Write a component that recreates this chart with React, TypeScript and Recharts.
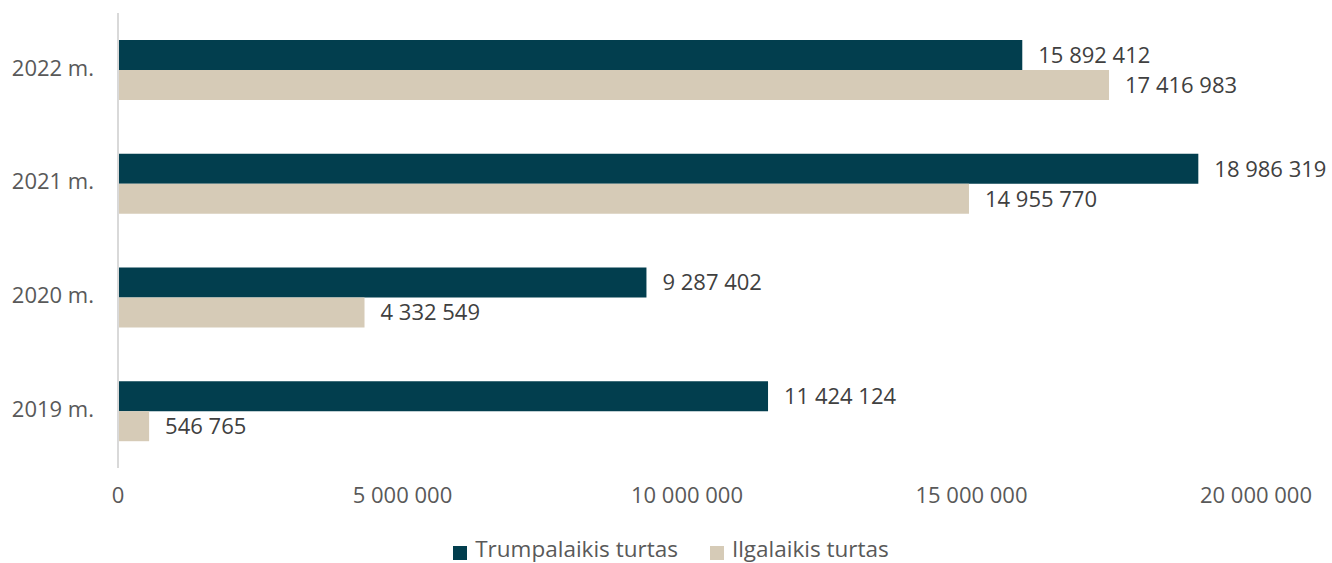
import React from 'react';
import { BarChart, Bar, XAxis, YAxis, Legend, LabelList } from 'recharts';

const years = ['2022 m.', '2021 m.', '2020 m.', '2019 m.'];
const shortTerm = [15892412, 18986319, 9287402, 11424124];
const longTerm = [17416983, 14955770, 4332549, 546765];
const xTicks = [0, 5000000, 10000000, 15000000, 20000000];
const seriesNames = ['Trumpalaikis turtas', 'Ilgalaikis turtas'];

const data = years.map((year, i) => ({
  year,
  trumpalaikis: shortTerm[i],
  ilgalaikis: longTerm[i],
}));

const fmt = (v: number) => String(v).replace(/\B(?=(\d{3})+(?!\d))/g, ' ');

const FONT = '"Open Sans", sans-serif';

export default function App() {
  return (
    <div style={{ position: 'absolute', left: 0, top: 0, fontFamily: FONT }}>
      <BarChart
        width={1332}
        height={563}
        data={data}
        layout="vertical"
        margin={{ top: 13, right: 76, left: 0, bottom: 2 }}
        barGap={0}
        barCategoryGap="23.7%"
      >
        <XAxis
          type="number"
          domain={[0, 20000000]}
          ticks={xTicks}
          tickFormatter={fmt}
          axisLine={false}
          tickLine={false}
          tickSize={0}
          tickMargin={19}
          height={69}
          tick={{ fill: '#595959', fontSize: 22, fontFamily: FONT }}
        />
        <YAxis
          type="category"
          dataKey="year"
          width={118}
          axisLine={{ stroke: '#d9d9d9', strokeWidth: 2 }}
          tickLine={false}
          tickSize={0}
          tickMargin={24}
          tick={{ fill: '#595959', fontSize: 22, fontFamily: FONT, dy: -2 }}
        />
        <Legend
          verticalAlign="bottom"
          align="center"
          iconType="square"
          iconSize={14}
          height={24}
          wrapperStyle={{ top: 535, bottom: 'auto', left: 48, lineHeight: '28px' }}
          itemSorter={(item: any) => seriesNames.indexOf(item.value)}
          formatter={(value: string, _entry: any, index: number) => (
            <span
              style={{
                color: '#595959',
                fontSize: 22.5,
                fontFamily: FONT,
                marginLeft: 4,
                marginRight: index === 0 ? 22 : 0,
              }}
            >
              {value}
            </span>
          )}
        />
        <Bar dataKey="trumpalaikis" name={seriesNames[0]} fill="#023e4e" isAnimationActive={false}>
          <LabelList
            dataKey="trumpalaikis"
            position="right"
            offset={16}
            formatter={fmt}
            style={{ fill: '#404040', fontSize: 22, fontFamily: FONT }}
          />
        </Bar>
        <Bar dataKey="ilgalaikis" name={seriesNames[1]} fill="#d6cbb7" isAnimationActive={false}>
          <LabelList
            dataKey="ilgalaikis"
            position="right"
            offset={16}
            formatter={fmt}
            style={{ fill: '#404040', fontSize: 22, fontFamily: FONT }}
          />
        </Bar>
      </BarChart>
    </div>
  );
}
